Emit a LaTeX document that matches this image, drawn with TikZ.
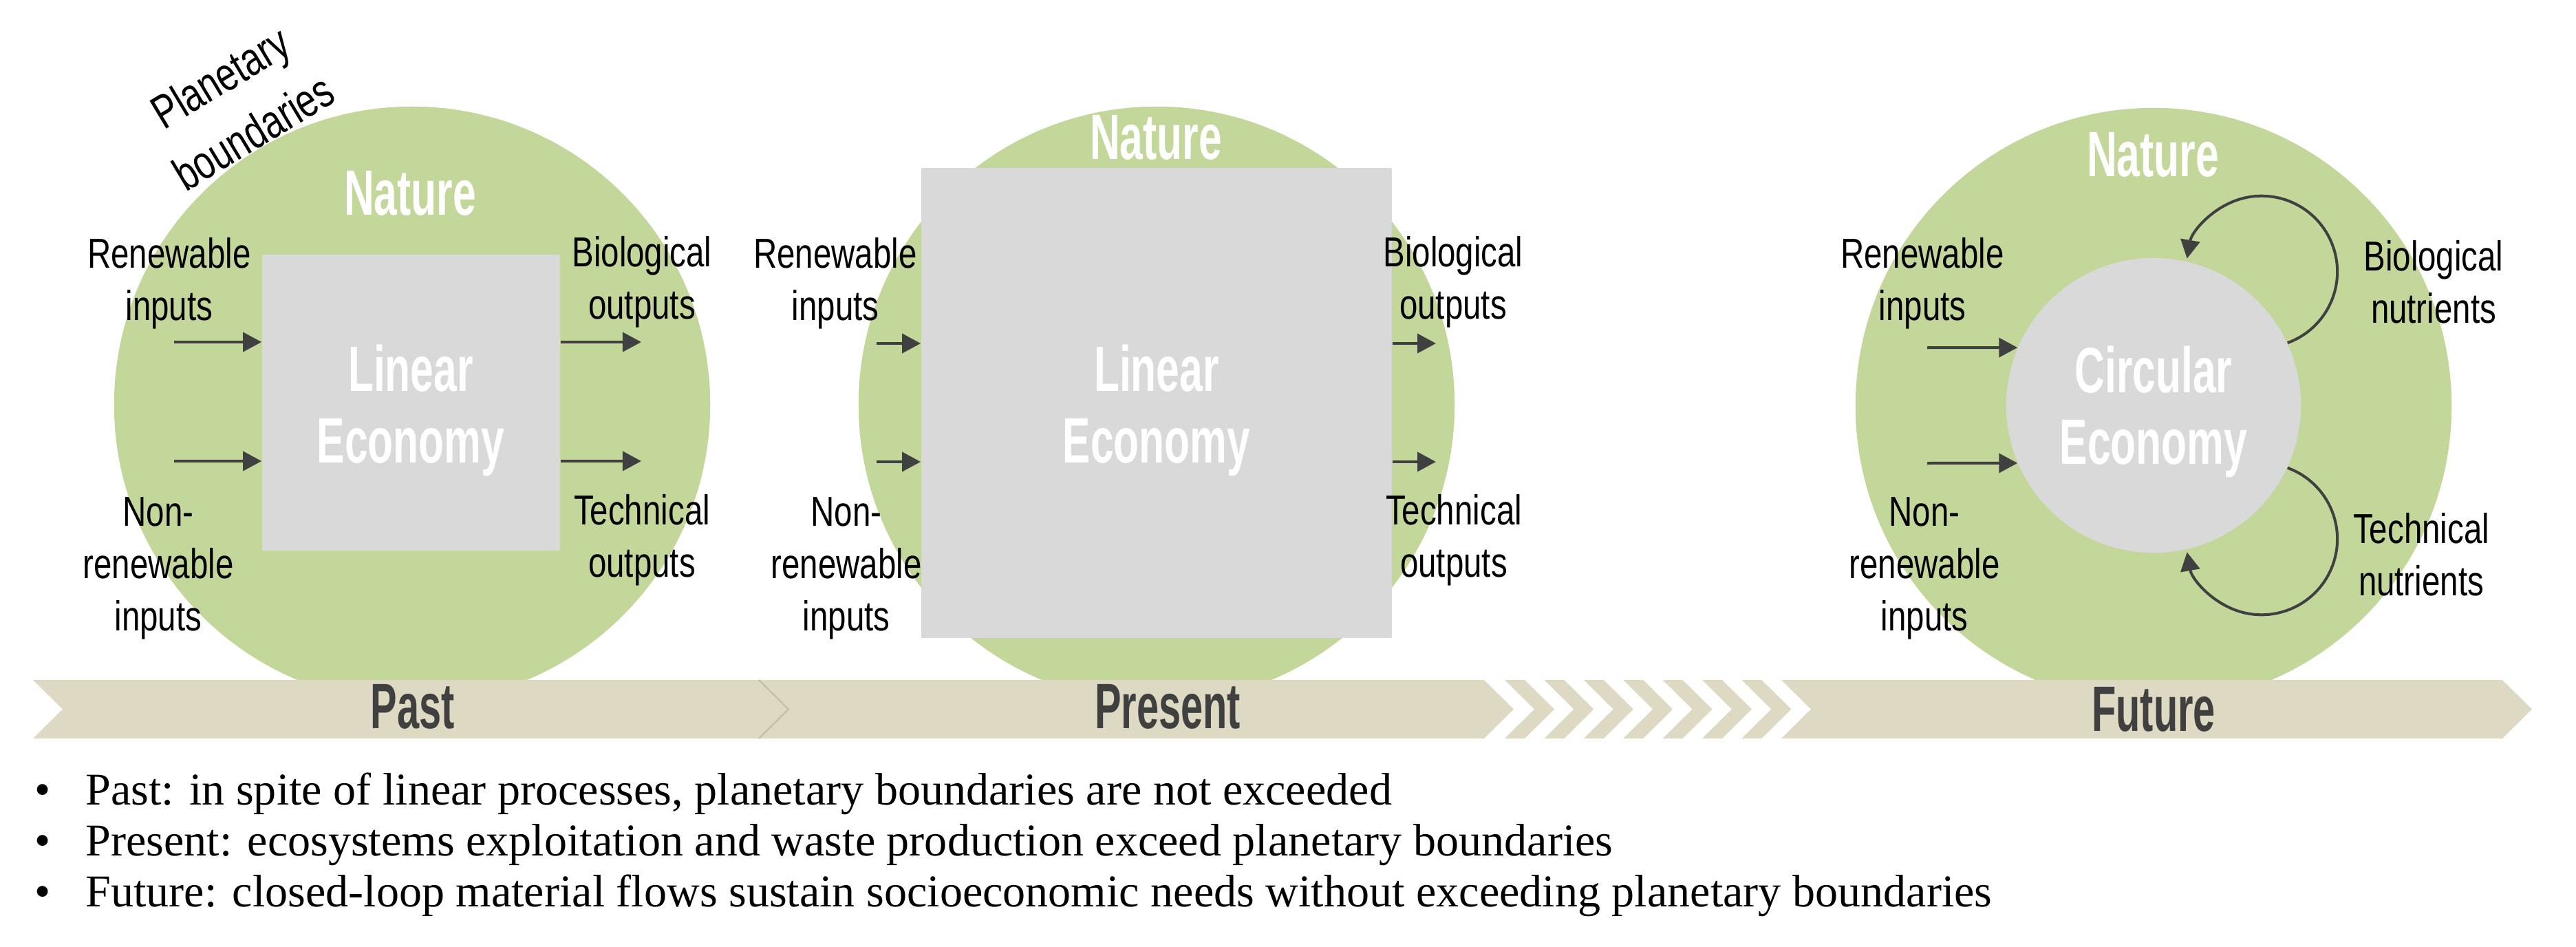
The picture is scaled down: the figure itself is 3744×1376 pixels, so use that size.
\documentclass[tikz,border=0pt]{standalone}
\usepackage{fontspec}
\setmainfont{Liberation Serif}
\newfontfamily\condreg[FakeStretch=0.78]{Liberation Sans}
\newfontfamily\condbold[FakeStretch=0.65]{Liberation Sans}
\newfontfamily\condplan[FakeStretch=0.76]{Liberation Sans}
\newfontfamily\condband[FakeStretch=0.62]{Liberation Sans}
\usetikzlibrary{arrows.meta}
\definecolor{natgreen}{HTML}{C4D79B}
\definecolor{ecogray}{HTML}{D9D9D9}
\definecolor{bandtan}{HTML}{DDD9C3}
\definecolor{bandline}{HTML}{C6C1A6}
\definecolor{darktxt}{HTML}{404040}
\begin{document}
\begin{tikzpicture}[x=0.01cm,y=-0.01cm,
  naturecirc/.style={circle, fill=natgreen, minimum size=8.66cm, inner sep=0},
  ecobox/.style={rectangle, fill=ecogray, inner sep=0},
  ecocirc/.style={circle, fill=ecogray, minimum size=4.28cm, inner sep=0},
  bigtxt/.style={text=white, align=center, inner sep=0, font=\condbold\bfseries\fontsize{26.5pt}{29.6pt}\selectfont},
  lbl/.style={text=black, align=center, inner sep=0, font=\condreg\fontsize{17.3pt}{21.6pt}\selectfont},
  bandtxt/.style={text=darktxt, inner sep=0, font=\condband\bfseries\fontsize{26.5pt}{30pt}\selectfont},
  bullettxt/.style={text=black, inner sep=0, anchor=base west, font=\fontsize{18.8pt}{22pt}\selectfont},
  arr/.style={draw=darktxt, line width=0.04cm, -{Triangle[length=2.7mm,width=2.8mm]}},
  bandseg/.style={fill=bandtan}
]
\useasboundingbox (0,0) rectangle (3744,1376);

% ---------- circles (Nature) ----------
\node[naturecirc] (pastnat) at (599,588) {};
\node[naturecirc] (presnat) at (1681,588) {};
\node[naturecirc] (futnat) at (3130,590) {};

% ---------- economies ----------
\node[ecobox, minimum width=4.33cm, minimum height=4.30cm] (pbox) at (597.5,585) {};
\node[ecobox, minimum width=6.84cm, minimum height=6.83cm] (qbox) at (1681,585.5) {};
\node[ecocirc] (ce) at (3130,589) {};

% ---------- white titles ----------
\node[bigtxt] (pnat) at (596,281) {Nature};
\node[bigtxt] (qnat) at (1680,200) {Nature};
\node[bigtxt] (fnat) at (3129,225) {Nature};
\node[bigtxt] (plin) at (597,596) {Linear\\Economy};
\node[bigtxt] (qlin) at (1681,596) {Linear\\Economy};
\node[bigtxt] (fcir) at (3130,598) {Circular\\Economy};

% ---------- planetary boundaries ----------
\node[text=black, align=center, inner sep=0, rotate=31,
      font=\condplan\fontsize{19.5pt}{26.5pt}\selectfont] (planb) at (344,152) {Planetary\\boundaries};

% ---------- Past labels ----------
\node[lbl] (pri) at (246,412) {Renewable\\inputs};
\node[lbl] (pnri) at (230,826) {Non-\\renewable\\inputs};
\node[lbl] (pbo) at (933,410) {Biological\\outputs};
\node[lbl] (pto) at (933,785) {Technical\\outputs};
\coordinate (pa1) at (253,497);
\coordinate (pa2) at (253,670);
\coordinate (pb1) at (932,497);
\coordinate (pb2) at (932,670);
\draw[arr] (pa1) -- (pa1 -| pbox.west);
\draw[arr] (pa2) -- (pa2 -| pbox.west);
\draw[arr] (pbox.east |- pb1) -- (pb1);
\draw[arr] (pbox.east |- pb2) -- (pb2);

% ---------- Present labels ----------
\node[lbl] (qri) at (1214,412) {Renewable\\inputs};
\node[lbl] (qnri) at (1230,826) {Non-\\renewable\\inputs};
\node[lbl] (qbo) at (2112,410) {Biological\\outputs};
\node[lbl] (qto) at (2113,785) {Technical\\outputs};
\coordinate (qa1) at (1274,499);
\coordinate (qa2) at (1274,671);
\coordinate (qb1) at (2087,499);
\coordinate (qb2) at (2087,671);
\draw[arr] (qa1) -- (qa1 -| qbox.west);
\draw[arr] (qa2) -- (qa2 -| qbox.west);
\draw[arr] (qbox.east |- qb1) -- (qb1);
\draw[arr] (qbox.east |- qb2) -- (qb2);

% ---------- Future labels ----------
\node[lbl] (fri) at (2794,412) {Renewable\\inputs};
\node[lbl] (fnri) at (2797,826) {Non-\\renewable\\inputs};
\node[lbl] (fbn) at (3537,410) {Biological\\nutrients};
\node[lbl] (ftn) at (3519,806) {Technical\\nutrients};
\coordinate (fa1) at (2801,505);
\coordinate (fa2) at (2801,673);
\draw[arr] (fa1) -- (ce.157);
\draw[arr] (fa2) -- (ce.203);
\draw[arr] (ce.25) arc[start angle=-70, end angle=170, radius=1.1cm];
\draw[arr] (ce.-25) arc[start angle=70, end angle=-170, radius=1.1cm];

% ---------- timeline band ----------
\fill[bandseg] (48,988) -- (1103,988) -- (1146,1030.5) -- (1103,1073) -- (48,1073) -- (91,1030.5) -- cycle;
\fill[bandseg] (1103,988) -- (2157,988) -- (2200,1030.5) -- (2157,1073) -- (1103,1073) -- (1146,1030.5) -- cycle;
\draw[bandline, line width=0.025cm] (1103,988) -- (1146,1030.5) -- (1103,1073);
\foreach \k in {0,...,6} {
  \fill[bandseg] ({2187+57.4*\k},988) -- ++(29,0) -- ++(43,42.5) -- ++(-43,42.5) -- ++(-29,0) -- ++(43,-42.5) -- cycle;
}
\fill[bandseg] (2589,988) -- (3637,988) -- (3680,1030.5) -- (3637,1073) -- (2589,1073) -- (2632,1030.5) -- cycle;
\node[bandtxt] (tpast) at (600,1027) {Past};
\node[bandtxt] (tpres) at (1697,1027) {Present};
\node[bandtxt] (tfut) at (3130,1031) {Future};

% ---------- bullet text ----------
\node[bullettxt] (b1) at (50,1169) {\textbullet};
\node[bullettxt] (l1) at (124,1169) {Past: in spite of linear processes, planetary boundaries are not exceeded};
\node[bullettxt] (b2) at (50,1243) {\textbullet};
\node[bullettxt] (l2) at (124,1243) {Present: ecosystems exploitation and waste production exceed planetary boundaries};
\node[bullettxt] (b3) at (50,1317) {\textbullet};
\node[bullettxt] (l3) at (124,1317) {Future: closed-loop material flows sustain socioeconomic needs without exceeding planetary boundaries};
\end{tikzpicture}
\end{document}
